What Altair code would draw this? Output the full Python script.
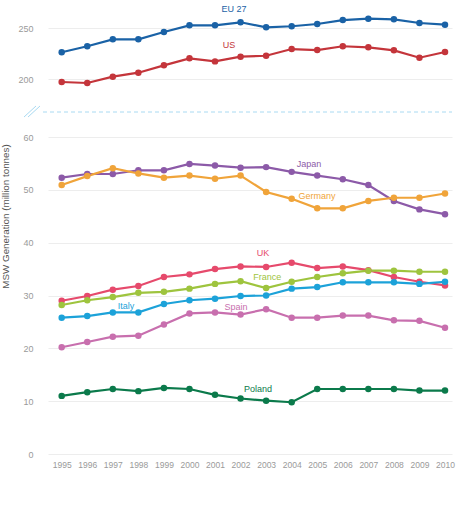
import altair as alt
import pandas as pd

years = list(range(1995, 2011))

eu27 = [226.5, 232.4, 239.2, 239.2, 246.4, 252.9, 252.9, 255.9, 251.0, 252.0, 254.2, 258.1, 259.4, 258.8, 255.2, 253.6]
us = [197.4, 196.4, 202.6, 206.5, 213.7, 220.6, 217.6, 222.2, 223.1, 229.7, 228.7, 232.4, 231.4, 228.4, 221.2, 226.8]
japan = [52.3, 53.0, 53.0, 53.7, 53.7, 54.9, 54.6, 54.2, 54.3, 53.4, 52.7, 52.0, 50.9, 47.9, 46.3, 45.4]
germany = [50.9, 52.6, 54.1, 53.1, 52.3, 52.7, 52.1, 52.7, 49.6, 48.3, 46.5, 46.5, 47.9, 48.5, 48.5, 49.3]
uk = [29.0, 29.9, 31.1, 31.8, 33.5, 34.0, 35.0, 35.5, 35.4, 36.2, 35.2, 35.5, 34.8, 33.5, 32.6, 31.9]
france = [28.2, 29.1, 29.7, 30.5, 30.7, 31.3, 32.2, 32.7, 31.4, 32.6, 33.5, 34.2, 34.7, 34.7, 34.5, 34.5]
italy = [25.8, 26.1, 26.8, 26.8, 28.4, 29.1, 29.4, 29.9, 30.0, 31.3, 31.6, 32.5, 32.5, 32.5, 32.2, 32.6]
spain = [20.2, 21.2, 22.2, 22.4, 24.5, 26.6, 26.8, 26.4, 27.4, 25.8, 25.8, 26.2, 26.2, 25.3, 25.2, 23.9]
poland = [11.0, 11.7, 12.3, 11.9, 12.5, 12.3, 11.2, 10.5, 10.1, 9.8, 12.3, 12.3, 12.3, 12.3, 12.0, 12.0]

series_names = ["EU 27", "US", "Japan", "Germany", "UK", "France", "Italy", "Spain", "Poland"]
series_values = [eu27, us, japan, germany, uk, france, italy, spain, poland]
colors = ["#1a62a6", "#c4353b", "#8c5aa8", "#f0a43a", "#e64a6c", "#9ec43e", "#1ca2d9", "#c86fae", "#0b7a4b"]

# label anchor positions (data units)
label_x = [2001.74, 2001.55, 2004.68, 2004.99, 2002.88, 2003.04, 1997.52, 2001.82, 2002.68]
label_y = [268.9, 233.6, 54.8, 48.8, 38.1, 33.5, 28.05, 27.9, 12.3]

top_ticks = [200, 250]
bottom_ticks = [0, 10, 20, 30, 40, 50, 60]

rows = []
for name, vals in zip(series_names, series_values):
    for yr, v in zip(years, vals):
        rows.append({"series": name, "year": yr, "value": v})
df = pd.DataFrame(rows)
top_names = ["EU 27", "US"]
df_top = df[df["series"].isin(top_names)]
df_bot = df[~df["series"].isin(top_names)]
lab = pd.DataFrame({"series": series_names, "x": label_x, "y": label_y})
lab_top = lab[lab["series"].isin(top_names)]
lab_bot = lab[~lab["series"].isin(top_names)]

FONT = "Liberation Sans"
W = 404
xs = alt.Scale(domain=[1994.464, 2010.274], nice=False, zero=False)
ytop = alt.Scale(domain=[168, 265], nice=False, zero=False)
ybot = alt.Scale(domain=[0, 60], nice=False, zero=False)
cscale = alt.Scale(domain=series_names, range=colors)
col = alt.Color("series:N", scale=cscale, legend=None)


def panel(data, labels, yscale, ticks, xaxis, yaxis_extra):
    base = alt.Chart(data)
    yax = alt.Axis(values=ticks, **yaxis_extra)
    lines = base.mark_line(strokeWidth=2.2).encode(
        x=alt.X("year:Q", scale=xs, axis=xaxis),
        y=alt.Y("value:Q", scale=yscale, axis=yax),
        color=col,
        detail="series:N",
    )
    pts = base.mark_circle(size=42, opacity=1).encode(
        x=alt.X("year:Q", scale=xs, axis=xaxis),
        y=alt.Y("value:Q", scale=yscale, axis=yax),
        color=col,
    )
    txt = alt.Chart(labels).mark_text(fontSize=9, font=FONT).encode(
        x=alt.X("x:Q", scale=xs, axis=xaxis),
        y=alt.Y("y:Q", scale=yscale, axis=yax),
        text="series:N",
        color=col,
    )
    return [lines, pts, txt]


top_layers = panel(df_top, lab_top, ytop, top_ticks, None, {"title": None})
dash = alt.Chart(pd.DataFrame({"y": [168]})).mark_rule(
    strokeDash=[4, 3], color="#a9daf2", strokeWidth=1
).encode(
    y=alt.Y("y:Q", scale=ytop),
    x=alt.value(-5),
    x2=alt.value(W),
)
slash1 = alt.Chart(pd.DataFrame({"a": [0]})).mark_rule(color="#a9daf2", strokeWidth=1).encode(
    x=alt.value(-24), x2=alt.value(-12), y=alt.value(104), y2=alt.value(93)
)
slash2 = alt.Chart(pd.DataFrame({"a": [0]})).mark_rule(color="#a9daf2", strokeWidth=1).encode(
    x=alt.value(-20), x2=alt.value(-8), y=alt.value(104), y2=alt.value(93)
)
top = alt.layer(*top_layers, dash, slash1, slash2).properties(width=W, height=99)

xaxis = alt.Axis(values=years, format="d", title=None, grid=False, labelPadding=6,
                 labelFontSize=8.5, labelFlush=False, labelOverlap=False)
bot_layers = panel(
    df_bot, lab_bot, ybot, bottom_ticks, xaxis,
    {"title": "MSW Generation (million tonnes)", "titleX": -38, "titleY": 79,
     "titleFontSize": 9.8, "titleFontWeight": "normal", "titleColor": "#555555",
     "titleFont": FONT},
)
bottom = alt.layer(*bot_layers).properties(width=W, height=317)

chart = alt.vconcat(top, bottom, spacing=25, bounds="flush").resolve_scale(
    y="independent", color="shared"
).properties(
    padding={"left": 0, "top": 5, "right": 5, "bottom": 5},
    background="white",
).configure_view(strokeWidth=0).configure_axis(
    gridColor="#ededed", domain=False, ticks=False, labelColor="#9a9a9a",
    labelFont=FONT, labelFontSize=9, labelPadding=15,
).configure_axisX(labelOverlap=False, labelPadding=6, labelFontSize=8.5)

chart.save("out.html", embed_options={"renderer": "svg", "actions": False})
